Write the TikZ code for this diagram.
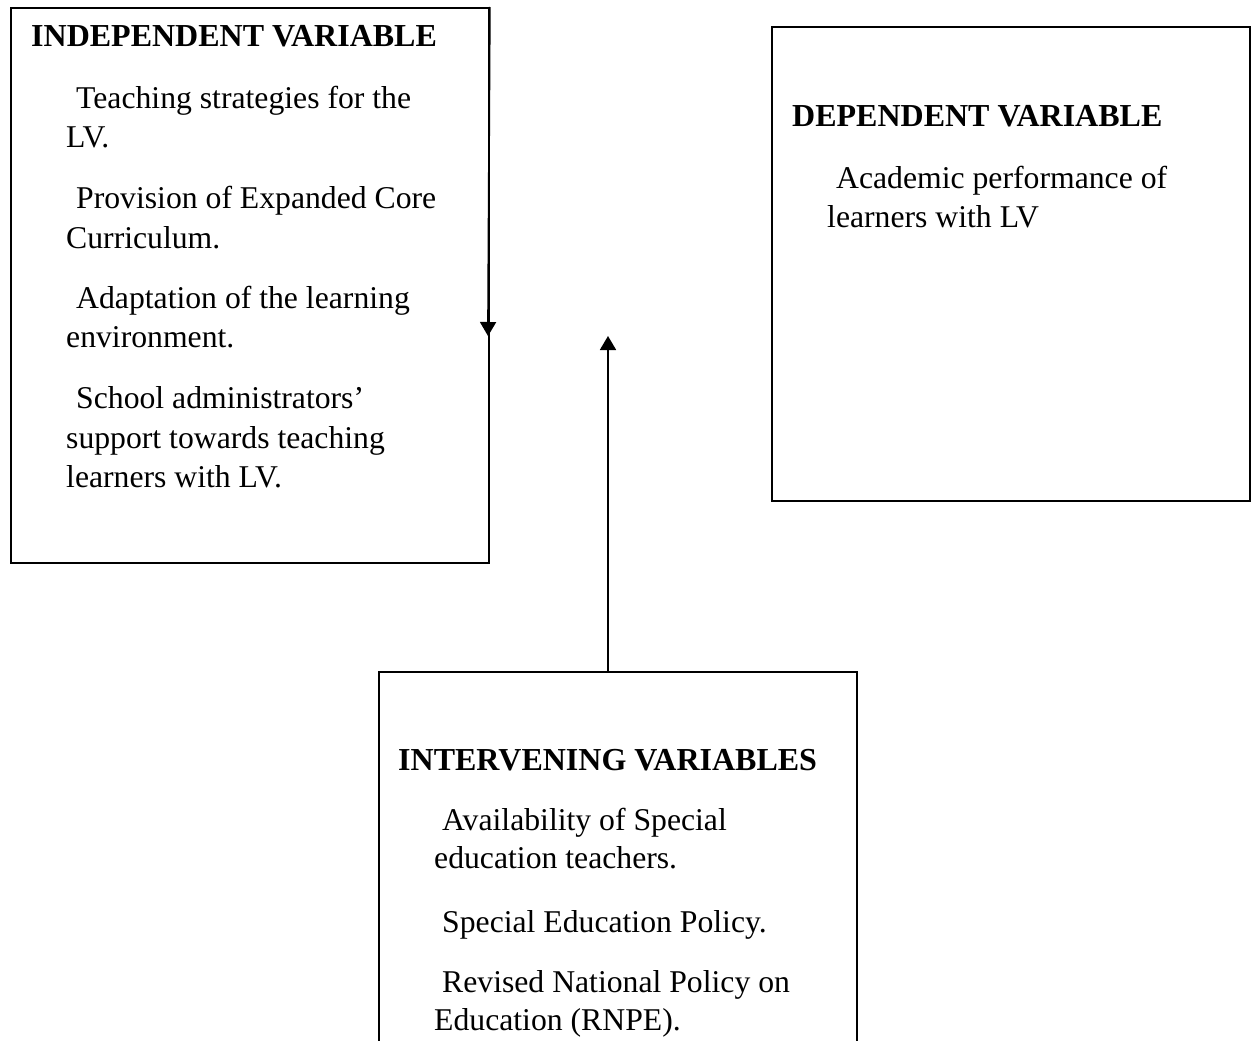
\documentclass[tikz,border=0pt]{standalone}
\usepackage{fontspec}
\setmainfont{Liberation Serif}
\usetikzlibrary{arrows.meta}

\begin{document}
\begin{tikzpicture}[
		x=1pt, y=-1pt,
		every node/.style={inner sep=0pt, anchor=base west},
		box/.style={draw, line width=1.8pt, anchor=north west, minimum width=478pt},
		head/.style={font=\fontsize{32}{38}\selectfont\bfseries},
		body/.style={font=\fontsize{31.7}{38}\selectfont},
		to/.style={-{Triangle[length=14pt,width=16pt]}, line width=1.8pt}
		]
		
		\useasboundingbox (0,0) rectangle (1256,1041);
		
		% the three boxes
		\node[box, minimum height=555pt] (indep) at (10,7) {};
		\node[box, minimum height=474pt] (dep) at (771,26) {};
		\node[box, minimum height=420pt] (inter) at (378,671) {};
		
		\node[head] (indepHead) at (31,47) {INDEPENDENT VARIABLE};
		\node[head] (depHead) at (792,126) {DEPENDENT VARIABLE};
		\node[head] (interHead) at (398,770) {INTERVENING VARIABLES};
		
		\foreach \x/\y/\t [count=\i] in {
			76/108/Teaching strategies for the, 66/147/LV.,
			76/208/Provision of Expanded Core, 66/248/Curriculum.,
			76/308/Adaptation of the learning, 66/347/environment.,
			76/408/School administrators’, 66/448/support towards teaching,
			66/487/learners with LV.,
			836/188/Academic performance of, 827/227/learners with LV,
			442/830/Availability of Special, 434/868/education teachers.,
			442/932/Special Education Policy.,
			442/992/Revised National Policy on, 434/1030/Education (RNPE).}
		\node[body] (line\i) at (\x,\y) {\t};
		
		\coordinate (downTip) at (488,336);
		\coordinate (upTip) at (608,336);
		
		\draw[to] (indep.north east) -- (downTip);
		\draw[to] (inter.north west -| upTip) -- (upTip);
		
\end{tikzpicture}
\end{document}
